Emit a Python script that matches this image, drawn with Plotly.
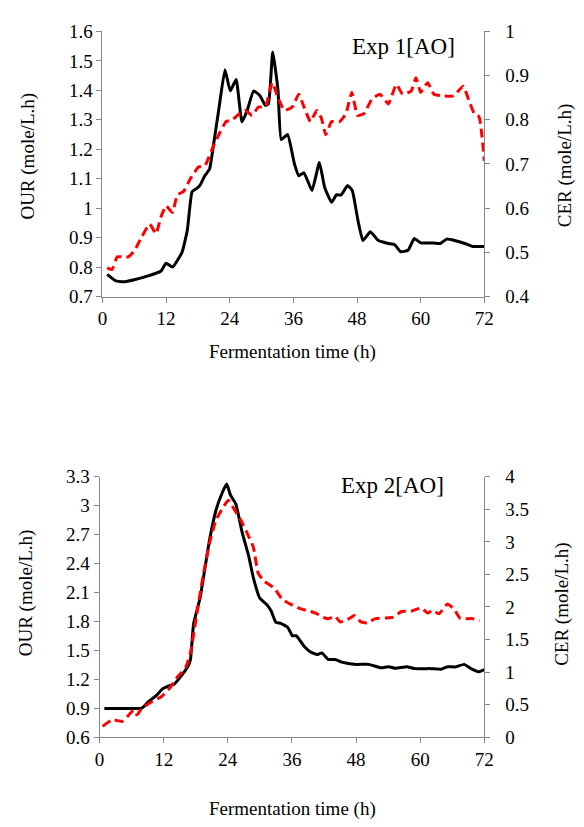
import plotly.graph_objects as go

# ---------------- data ----------------
# Exp 1 [AO]
t1_our = [0.9, 2.5, 4, 6, 8.6, 11, 12, 13.2, 15, 16, 16.9, 17.8, 18.4, 19.3, 20.2, 20.9, 22, 23.1,
          24.1, 25.2, 26.3, 27.3, 28.5, 29.7, 30.7, 31.3, 32.1, 33.1, 33.7, 34.9, 36.2, 37.0, 38.0,
          39.5, 40.9, 41.9, 43.2, 44.1, 45.0, 46.2, 47.1, 48.1, 49.1, 50.5, 52.0, 53.9, 55.1,
          56.2, 57.6, 58.8, 60.0, 62.4, 63.7, 64.9, 66.4, 68.3, 69.8, 72.0]
our1 = [0.775, 0.753, 0.75, 0.757, 0.77, 0.786, 0.813, 0.80, 0.85, 0.925, 1.056, 1.067, 1.078, 1.11,
        1.133, 1.21, 1.343, 1.47, 1.398, 1.437, 1.293, 1.332, 1.398, 1.382, 1.349, 1.354, 1.53, 1.40,
        1.233, 1.25, 1.15, 1.11, 1.12, 1.06, 1.155, 1.07, 1.02, 1.045, 1.045, 1.077, 1.06, 0.965,
        0.89, 0.92, 0.89, 0.88, 0.876, 0.852, 0.857, 0.897, 0.882, 0.882, 0.88, 0.895, 0.89, 0.88,
        0.87, 0.87]
t1_cer = [0.9, 1.8, 2.8, 3.7, 4.9, 6.1, 7.4, 8.9, 10.1, 11.0, 12.0, 13.2, 14.1, 15.3, 16.6, 18.1, 19.3,
          20.9, 22.1, 23.3, 24.5, 25.8, 27.0, 28.2, 29.4, 30.7, 32.0, 33.1, 34.3, 35.8, 37.0, 38.0,
          39.2, 40.4, 41.3, 42.1, 43.2, 44.7, 45.9, 47.0, 48.1, 49.3, 50.8, 52.3, 53.9, 55.4, 56.6,
          58.2, 59.1, 60.0, 61.3, 62.5, 64.3, 66.2, 68.0, 69.2, 70.1, 71.0, 72.0]
cer1 = [0.465, 0.461, 0.49, 0.49, 0.49, 0.505, 0.535, 0.564, 0.542, 0.579, 0.605, 0.59, 0.63, 0.638,
        0.667, 0.693, 0.696, 0.74, 0.77, 0.796, 0.80, 0.814, 0.821, 0.81, 0.829, 0.829, 0.884, 0.85,
        0.821, 0.829, 0.858, 0.829, 0.796, 0.821, 0.803, 0.766, 0.796, 0.796, 0.814, 0.862, 0.81,
        0.814, 0.847, 0.858, 0.836, 0.88, 0.858, 0.865, 0.895, 0.862, 0.884, 0.858, 0.854, 0.854,
        0.876, 0.84, 0.814, 0.807, 0.707]

# Exp 2 [AO]
t2_our = [0.9, 4, 7.9, 9.1, 10.6, 11.8, 13, 14, 15.5, 16.5, 17, 17.6, 18.8, 20.6, 21.8, 23.0, 23.8,
          24.5, 25.5, 26.7, 27.9, 28.8, 30.0, 31.2, 32.1, 33.0, 33.9, 35.2, 36.1, 36.8, 38.3, 39.5,
          40.7, 41.6, 42.8, 44.1, 45.3, 48.0, 50.4, 52.6, 54.1, 55.4, 57.5, 59.0, 62.0, 63.9, 65.1,
          66.6, 68.2, 69.7, 70.9, 72.0]
our2 = [0.897, 0.897, 0.90, 0.965, 1.03, 1.10, 1.13, 1.15, 1.25, 1.33, 1.40, 1.775, 2.04, 2.65, 2.956,
        3.14, 3.226, 3.11, 3.02, 2.72, 2.48, 2.25, 2.04, 1.98, 1.91, 1.79, 1.78, 1.74, 1.65, 1.652,
        1.54, 1.483, 1.456, 1.473, 1.405, 1.405, 1.378, 1.354, 1.354, 1.32, 1.33, 1.314, 1.33, 1.31,
        1.31, 1.304, 1.33, 1.327, 1.354, 1.304, 1.277, 1.30]
t2_cer = [0.6, 2.4, 4.2, 5.2, 6.4, 7.0, 7.9, 9.7, 11.5, 13.0, 14.5, 16.1, 17.0, 18.2, 19.4, 20.6, 21.8,
          23.0, 24.1, 25.1, 26.4, 27.6, 28.8, 29.7, 30.9, 32.7, 34.2, 35.8, 37.7, 39.5, 40.7, 41.6,
          42.8, 44.1, 45.0, 46.2, 47.7, 48.9, 50.1, 51.6, 53.5, 55.0, 56.5, 58.3, 60.2, 61.4, 62.3,
          63.5, 65.1, 66.3, 67.5, 68.7, 69.9, 71.1]
cer2 = [0.165, 0.265, 0.24, 0.315, 0.415, 0.34, 0.44, 0.54, 0.615, 0.74, 0.915, 1.065, 1.29, 1.89,
        2.49, 2.99, 3.34, 3.515, 3.64, 3.515, 3.34, 3.14, 2.915, 2.515, 2.39, 2.29, 2.115, 2.04, 1.97,
        1.93, 1.895, 1.845, 1.82, 1.855, 1.77, 1.795, 1.87, 1.77, 1.755, 1.82, 1.83, 1.845, 1.93,
        1.935, 1.985, 1.905, 1.945, 1.895, 2.045, 1.97, 1.82, 1.82, 1.82, 1.785]

x_ticks = [0, 12, 24, 36, 48, 60, 72]
our1_ticks = [0.7, 0.8, 0.9, 1.0, 1.1, 1.2, 1.3, 1.4, 1.5, 1.6]
our1_labels = ["0.7", "0.8", "0.9", "1", "1.1", "1.2", "1.3", "1.4", "1.5", "1.6"]
cer1_ticks = [0.4, 0.5, 0.6, 0.7, 0.8, 0.9, 1.0]
cer1_labels = ["0.4", "0.5", "0.6", "0.7", "0.8", "0.9", "1"]
our2_ticks = [0.6, 0.9, 1.2, 1.5, 1.8, 2.1, 2.4, 2.7, 3.0, 3.3]
our2_labels = ["0.6", "0.9", "1.2", "1.5", "1.8", "2.1", "2.4", "2.7", "3", "3.3"]
cer2_ticks = [0, 0.5, 1, 1.5, 2, 2.5, 3, 3.5, 4]
cer2_labels = ["0", "0.5", "1", "1.5", "2", "2.5", "3", "3.5", "4"]

titles = ["Exp 1[AO]", "Exp 2[AO]"]
x_title = "Fermentation time (h)"
our_title = "OUR (mole/L.h)"
cer_title = "CER (mole/L.h)"

# ---------------- figure ----------------
W, H = 584, 827
FONT = "Liberation Serif"
AX = "#868686"


def px(x):
    return x / W


def py(y):
    return 1 - y / H


fig = go.Figure()
black = dict(color="black", width=3, shape="spline", smoothing=0.4)
red = dict(color="#FF0000", width=3, dash="9px,5px", shape="spline", smoothing=0.4)

fig.add_trace(go.Scatter(x=t1_our, y=our1, mode="lines", line=black, xaxis="x", yaxis="y", name="OUR"))
fig.add_trace(go.Scatter(x=t1_cer, y=cer1, mode="lines", line=red, xaxis="x", yaxis="y2", name="CER"))
fig.add_trace(go.Scatter(x=t2_our, y=our2, mode="lines", line=black, xaxis="x2", yaxis="y3", name="OUR"))
fig.add_trace(go.Scatter(x=t2_cer, y=cer2, mode="lines", line=red, xaxis="x2", yaxis="y4", name="CER"))

tickfont = dict(family=FONT, size=19, color="black")
common_axis = dict(showgrid=False, zeroline=False, showline=True, linecolor=AX, linewidth=1,
                   ticks="outside", tickcolor=AX, ticklen=5, tickwidth=1, tickfont=tickfont)

fig.update_layout(
    width=W, height=H,
    margin=dict(l=0, r=0, t=0, b=0),
    paper_bgcolor="white", plot_bgcolor="white",
    showlegend=False,
    font=dict(family=FONT, color="black"),
    xaxis=dict(domain=[px(100), px(492)], range=[0, 72], tickvals=x_ticks, anchor="y", **common_axis),
    yaxis=dict(domain=[py(294), py(22)], range=[0.7, 1.6], tickvals=our1_ticks, ticktext=our1_labels,
               anchor="x", **common_axis),
    yaxis2=dict(domain=[py(294), py(22)], range=[0.4, 1.0], tickvals=cer1_ticks, ticktext=cer1_labels,
                anchor="x", overlaying="y", side="right", ticklabelstandoff=11, **common_axis),
    xaxis2=dict(domain=[px(97), px(492)], range=[0, 72], tickvals=x_ticks, anchor="y3", **common_axis),
    yaxis3=dict(domain=[py(746), py(479)], range=[0.6, 3.3], tickvals=our2_ticks, ticktext=our2_labels,
                anchor="x2", **common_axis),
    yaxis4=dict(domain=[py(746), py(479)], range=[0, 4], tickvals=cer2_ticks, ticktext=cer2_labels,
                anchor="x2", overlaying="y3", side="right", ticklabelstandoff=11, **common_axis),
)

ann_font = dict(family=FONT, size=19, color="black")
annotations = [
    dict(text=titles[0], x=px(409), y=py(37), font=dict(family=FONT, size=23, color="black")),
    dict(text=titles[1], x=px(398), y=py(488), font=dict(family=FONT, size=23, color="black")),
    dict(text=x_title, x=px(295), y=py(351), font=ann_font),
    dict(text=x_title, x=px(295), y=py(820), font=ann_font),
    dict(text=our_title, x=px(24), y=py(150), textangle=-90, font=ann_font),
    dict(text=cer_title, x=px(575), y=py(160), textangle=-90, font=ann_font),
    dict(text=our_title, x=px(21), y=py(598), textangle=-90, font=ann_font),
    dict(text=cer_title, x=px(571), y=py(610), textangle=-90, font=ann_font),
]
for a in annotations:
    fig.add_annotation(xref="paper", yref="paper", showarrow=False, xanchor="center", yanchor="middle", **a)

fig.write_html("out.html")
